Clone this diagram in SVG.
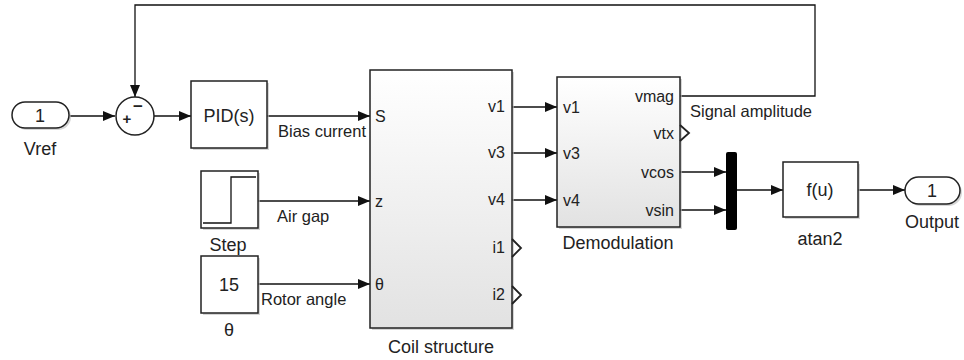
<svg xmlns="http://www.w3.org/2000/svg" width="964" height="360" viewBox="0 0 964 360">
<defs>
<style>
text{font-family:"Liberation Sans",Arial,sans-serif;fill:#222}
.p{font-size:16px}
.l{font-size:16.5px}
.b{font-size:18px}
.blk{fill:#fff;stroke:#222;stroke-width:1.5}
.sub{fill:url(#g);stroke:#222;stroke-width:1.5}
.sh{fill:#bbb;opacity:0.6}
.ln{fill:none;stroke:#111;stroke-width:1.3}
.chev{fill:none;stroke:#222;stroke-width:1.8}
.c{text-anchor:middle}
.r{text-anchor:end}
</style>
<linearGradient id="g" x1="0" y1="0" x2="0" y2="1">
<stop offset="0" stop-color="#ffffff"/>
<stop offset="1" stop-color="#e2e2e2"/>
</linearGradient>
<marker id="a" markerUnits="userSpaceOnUse" markerWidth="12" markerHeight="10" refX="12" refY="5" orient="auto">
<path d="M0,0 L12,5 L0,10 Z" fill="#111"/>
</marker>
</defs>
<rect width="964" height="360" fill="#fff"/>

<g id="connectors">
<path class="ln" d="M70,116 H115" marker-end="url(#a)"/>
<path class="ln" d="M680,96 H815 V5 H135 V97" marker-end="url(#a)"/>
<path class="ln" d="M154,116 H191" marker-end="url(#a)"/>
<path class="ln" d="M267,116 H370" marker-end="url(#a)"/>
<path class="ln" d="M258,201 H370" marker-end="url(#a)"/>
<path class="ln" d="M258,284 H370" marker-end="url(#a)"/>
<path class="ln" d="M512,107 H557" marker-end="url(#a)"/>
<path class="ln" d="M512,153 H557" marker-end="url(#a)"/>
<path class="ln" d="M512,200 H557" marker-end="url(#a)"/>
<path class="ln" d="M680,172 H726" marker-end="url(#a)"/>
<path class="ln" d="M680,210 H726" marker-end="url(#a)"/>
<path class="ln" d="M737,190 H783" marker-end="url(#a)"/>
<path class="ln" d="M858,190 H905" marker-end="url(#a)"/>
<text x="278" y="137" class="l">Bias current</text>
<text x="277" y="222" class="l">Air gap</text>
<text x="261" y="305" class="l">Rotor angle</text>
<text x="690" y="117" class="l">Signal amplitude</text>
</g>

<g id="vref">
<rect x="14" y="104" width="57" height="26" rx="13" class="sh"/>
<rect x="12" y="102" width="57" height="26" rx="13" class="blk"/>
<text x="40" y="122" class="c b">1</text>
<text x="40" y="155" class="c b">Vref</text>
</g>

<g id="sum">
<circle cx="135" cy="116" r="19" class="blk"/>
<text x="127" y="124" class="c" font-size="15" font-weight="bold">+</text>
<text x="138" y="112" class="c" font-size="17" font-weight="bold">−</text>
</g>

<g id="pid">
<rect x="193" y="83" width="76" height="67" class="sh"/>
<rect x="191" y="81" width="76" height="67" class="blk"/>
<text x="229" y="122" class="c b">PID(s)</text>
</g>

<g id="step">
<rect x="203" y="173" width="57" height="57" class="sh"/>
<rect x="201" y="171" width="57" height="57" class="blk"/>
<path class="ln" d="M203,223 H231 V177 H256" stroke-width="1.8"/>
<text x="228" y="251" class="c b">Step</text>
</g>

<g id="theta">
<rect x="203" y="258" width="57" height="57" class="sh"/>
<rect x="201" y="256" width="57" height="57" class="blk"/>
<text x="229" y="291" class="c b">15</text>
<text x="229" y="336" class="c b">θ</text>
</g>

<g id="coil">
<rect x="372" y="72" width="142" height="258" class="sh"/>
<rect x="370" y="70" width="142" height="258" class="sub"/>
<text x="375" y="122" class="p">S</text>
<text x="375" y="207" class="p">z</text>
<text x="375" y="290" class="p">θ</text>
<text x="505" y="112" class="r p">v1</text>
<text x="505" y="158" class="r p">v3</text>
<text x="505" y="205" class="r p">v4</text>
<text x="505" y="253" class="r p">i1</text>
<text x="505" y="300" class="r p">i2</text>
<path class="chev" d="M512,239 L521,248 L512,257"/>
<path class="chev" d="M512,286 L521,295 L512,304"/>
<text x="441" y="353" class="c b">Coil structure</text>
</g>

<g id="demod">
<rect x="559" y="79" width="123" height="150" class="sh"/>
<rect x="557" y="77" width="123" height="150" class="sub"/>
<text x="563" y="113" class="p">v1</text>
<text x="563" y="159" class="p">v3</text>
<text x="563" y="206" class="p">v4</text>
<text x="674" y="102" class="r p">vmag</text>
<text x="674" y="139" class="r p">vtx</text>
<text x="674" y="178" class="r p">vcos</text>
<text x="674" y="216" class="r p">vsin</text>
<path class="chev" d="M680,125 L689,133 L680,141"/>
<text x="618" y="249" class="c b">Demodulation</text>
</g>

<g id="mux">
<rect x="726" y="152" width="11" height="78" rx="2" fill="#000"/>
</g>

<g id="atan2">
<rect x="785" y="164" width="75" height="55" class="sh"/>
<rect x="783" y="162" width="75" height="55" class="blk"/>
<text x="820" y="196" class="c b">f(u)</text>
<text x="820" y="245" class="c b">atan2</text>
</g>

<g id="output">
<rect x="907" y="179" width="55" height="27" rx="13.5" class="sh"/>
<rect x="905" y="177" width="55" height="27" rx="13.5" class="blk"/>
<text x="932" y="197" class="c b">1</text>
<text x="932" y="228" class="c b">Output</text>
</g>
</svg>
